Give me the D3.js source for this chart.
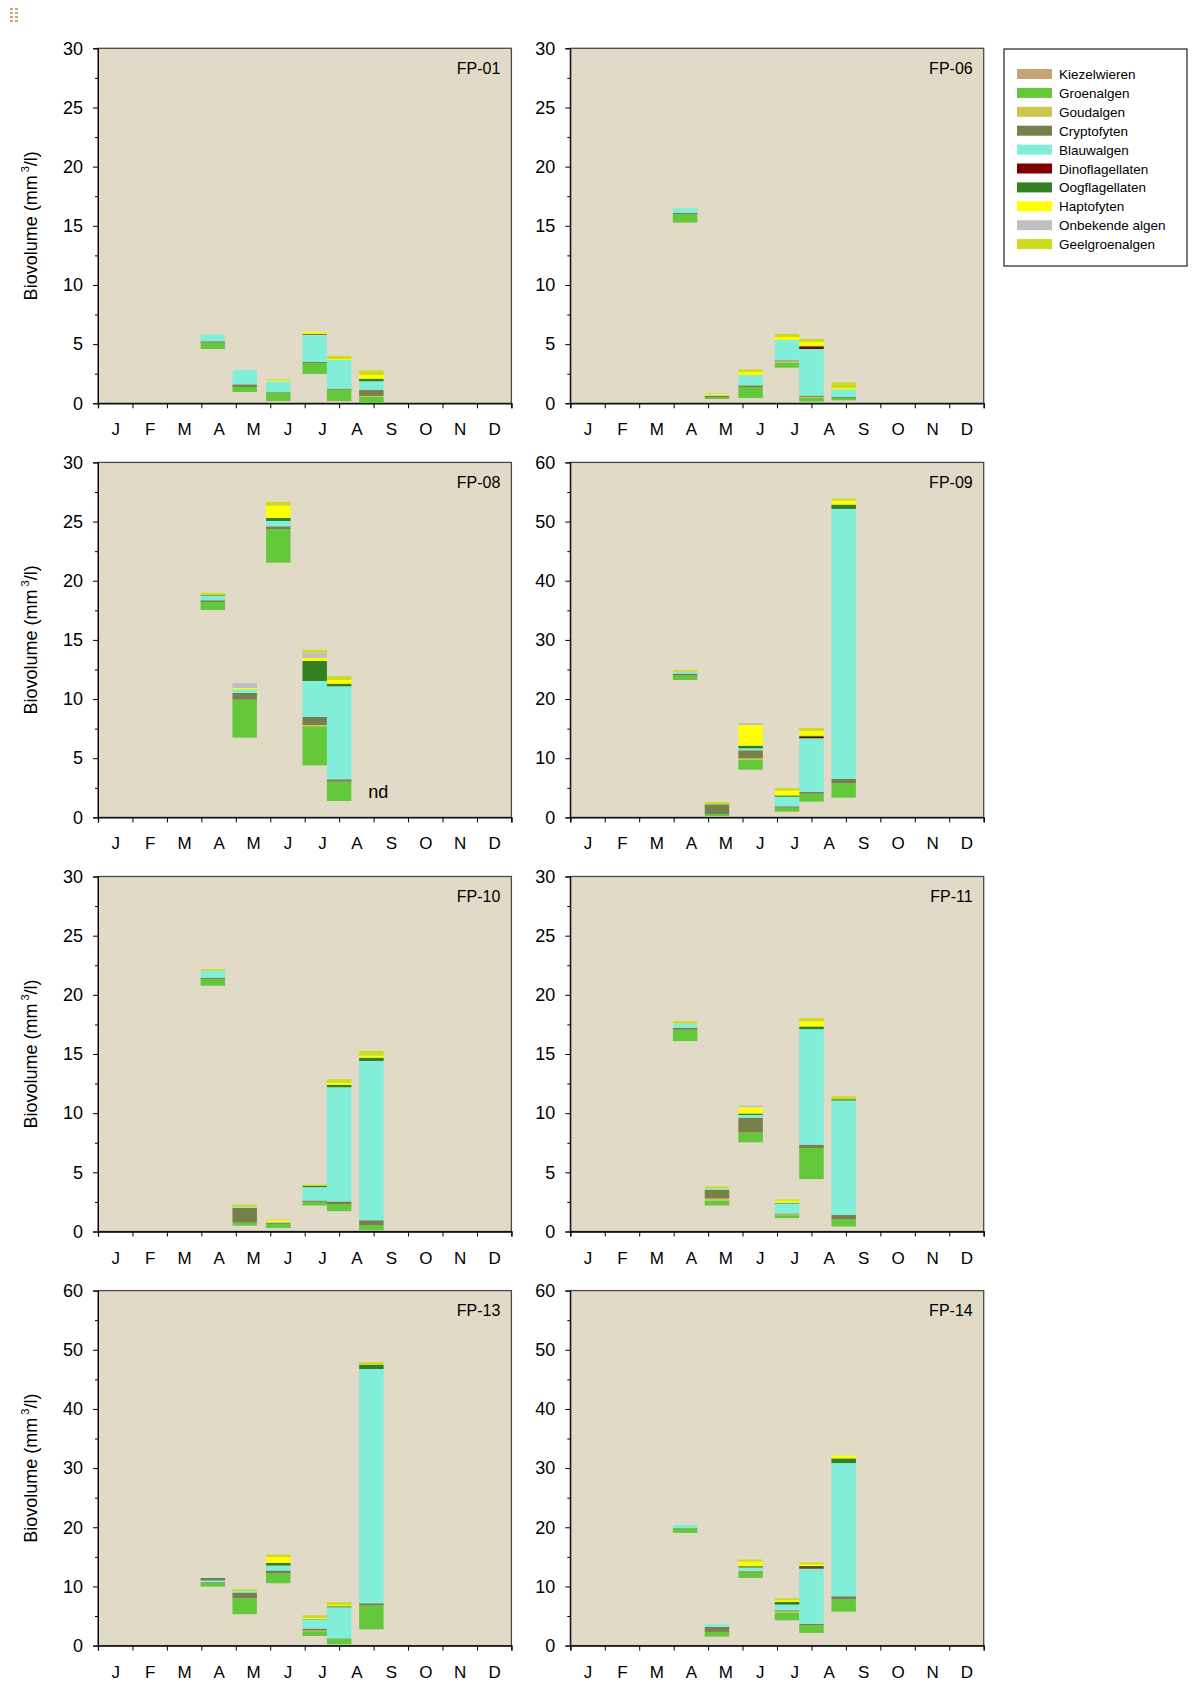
<!DOCTYPE html>
<html>
<head>
<meta charset="utf-8">
<script src="https://cdn.jsdelivr.net/npm/d3@7"></script>
<style>
  body { margin: 0; background: #fff; }
  svg { display: block; font-family: "Liberation Sans", Arial, sans-serif; }
</style>
</head>
<body>
<script>
const months = ["J","F","M","A","M","J","J","A","S","O","N","D"]
const groups = ["Kiezelwieren","Groenalgen","Goudalgen","Cryptofyten","Blauwalgen",
                "Dinoflagellaten","Oogflagellaten","Haptofyten","Onbekende algen","Geelgroenalgen"]
const stations = ["FP-01","FP-06","FP-08","FP-09","FP-10","FP-11","FP-13","FP-14"]
const yMaxes = [30,30,30,60,30,30,60,60]
const sampleDates = ["2011-04-11","2011-05-09","2011-06-08","2011-07-10","2011-08-01","2011-08-30"]

// one row per sample date, columns in the order of groups (mm3/l)
const fp01 = [
  [4.59,0.53,0,0.12,0.56,0,0,0,0,0],
  [0.96,0.42,0,0.22,1.19,0,0,0,0,0],
  [0.19,0.71,0,0.05,0.91,0,0,0.08,0,0.09],
  [2.48,0.93,0,0.08,2.31,0.04,0.04,0.17,0,0],
  [0.19,0.96,0,0.09,2.42,0,0,0.08,0,0.26],
  [0,0.53,0.09,0.5,0.74,0,0.22,0.31,0,0.4]]
const fp06 = [
  [15.27,0.73,0,0.09,0.39,0,0,0,0,0],
  [0.36,0.14,0,0.14,0.05,0,0,0.09,0,0.05],
  [0.45,0.93,0,0.14,0.87,0,0,0.28,0,0.2],
  [3.01,0.42,0.12,0.08,1.72,0,0,0.25,0,0.26],
  [0.14,0.31,0.09,0.1,3.95,0.2,0.08,0.31,0,0.26],
  [0.25,0.2,0,0.08,0.65,0,0,0.11,0,0.48]]
const fp08 = [
  [17.53,0.68,0,0.14,0.39,0,0.05,0,0,0.18],
  [6.74,3.21,0,0.57,0.31,0,0,0.11,0.42,0],
  [21.53,2.82,0,0.25,0.45,0,0.26,1.04,0,0.31],
  [4.4,3.3,0.11,0.68,3.04,0,1.69,0.25,0.45,0.23],
  [1.39,1.63,0,0.2,7.86,0,0.22,0.31,0,0.32],
  null]
const fp09 = [
  [23.23,0.73,0,0.34,0.34,0,0,0,0,0.28],
  [0.24,0.33,0,1.64,0.05,0,0,0,0,0.34],
  [8.07,1.69,0.23,1.35,0.34,0,0.45,3.49,0.34,0],
  [0.97,0.68,0,0.23,1.62,0,0.22,0.79,0,0.45],
  [2.66,1.35,0,0.28,9.08,0.23,0.22,0.79,0,0.5],
  [3.33,2.43,0,0.73,45.65,0,0.73,0.67,0,0.34]]
const fp10 = [
  [20.77,0.55,0,0.1,0.62,0,0,0,0,0.14],
  [0.5,0.25,0,1.25,0.1,0,0,0,0,0.17],
  [0.3,0.35,0,0.1,0.05,0,0,0.15,0,0.05],
  [2.2,0.31,0,0.11,1.13,0,0.1,0,0,0.11],
  [1.72,0.59,0,0.23,9.65,0,0.2,0.17,0,0.31],
  [0.1,0.43,0,0.42,13.46,0,0.28,0.17,0,0.4]]
const fp11 = [
  [16.09,0.96,0,0.16,0.38,0,0,0,0,0.17],
  [2.2,0.42,0.17,0.74,0.11,0,0,0,0,0.17],
  [7.54,0.82,0,1.24,0.25,0,0.12,0.53,0.14,0],
  [1.13,0.25,0.07,0.07,0.85,0,0.06,0.17,0,0.11],
  [4.43,2.63,0,0.28,9.76,0,0.23,0.43,0,0.28],
  [0.42,0.6,0,0.39,9.66,0,0.11,0,0,0.25]]
const fp13 = [
  [9.98,0.61,0,0.12,0.34,0.1,0.24,0,0,0],
  [5.3,2.7,0,0.97,0.27,0,0,0,0,0.28],
  [10.54,1.69,0,0.46,0.84,0,0.45,1.01,0,0.4],
  [1.63,0.8,0.11,0.34,1.57,0,0.06,0.17,0,0.45],
  [0.22,0.96,0,0.05,5.25,0,0.17,0.23,0,0.45],
  [2.76,4.01,0,0.39,39.59,0,0.73,0,0,0.45]]
const fp14 = [
  [19.05,0.8,0,0.05,0.51,0,0,0,0,0],
  [1.52,0.79,0,0.84,0.45,0,0,0,0,0],
  [11.44,0.91,0,0.22,0.63,0,0.22,0.79,0,0.34],
  [4.28,1.3,0.2,0.19,0.96,0,0.45,0.28,0,0.34],
  [2.14,1.29,0,0.23,9.36,0.23,0.22,0.29,0,0.28],
  [5.75,2.08,0,0.51,22.51,0,0.79,0.51,0,0]]
const stationData = [fp01,fp06,fp08,fp09,fp10,fp11,fp13,fp14]

const colours = ["#C4A574","#63C83A","#CCC64C","#77804A","#80EED8",
                 "#800000","#338022","#FFFF00","#C0C0C0","#CCDC1C"]
const plotBg = "#E0DAC6"

const W = 1193, H = 1682
const pw = 413.4, ph = 355
const colX = [98, 570.3]
const rowY = [48.3, 462.4, 876.5, 1290.6]
const barMonths = 0.71

const toMonth = s => {
  const d = new Date(s + "T00:00:00")
  const m = d.getMonth()
  const days = new Date(d.getFullYear(), m + 1, 0).getDate()
  return m + (d.getDate() - 1) / days
}

const svg = d3.select("body").append("svg")
  .attr("width", W).attr("height", H)

// little grip mark top left
const grip = svg.append("g").attr("fill", "#C9A86E")
d3.range(8).forEach(i => {
  grip.append("rect").attr("x", 10 + (i % 2) * 5).attr("y", 8 + Math.floor(i / 2) * 4)
    .attr("width", 3).attr("height", 2)
})

const x = d3.scaleLinear().domain([0, 12]).range([0, pw])
const bw = x(barMonths) - x(0)

const stack = d3.stack().keys(d3.range(groups.length)).value((d, k) => d[k])

stations.forEach((name, i) => {
  const col = i % 2, row = Math.floor(i / 2)
  const g = svg.append("g").attr("transform", `translate(${colX[col]},${rowY[row]})`)
  const yMax = yMaxes[i]
  const y = d3.scaleLinear().domain([0, yMax]).range([ph, 0])
  const step = yMax / 6

  g.append("rect").attr("width", pw).attr("height", ph)
    .attr("fill", plotBg).attr("stroke", "#4a4a4a").attr("stroke-width", 1.3)

  const rows = stationData[i]
    .map((v, j) => v ? Object.assign(v.slice(), { date: toMonth(sampleDates[j]) }) : null)
    .filter(d => d)
  const layers = stack(rows)

  // diatoms at the bottom of each stack are not visible in the original
  g.selectAll("g.layer")
    .data(layers.filter(l => l.key !== 0))
    .join("g")
    .attr("class", "layer")
    .attr("fill", d => colours[d.key])
    .selectAll("rect")
    .data(d => d)
    .join("rect")
    .attr("x", d => x(d.data.date) - bw / 2)
    .attr("width", bw)
    .attr("y", d => y(d[1]))
    .attr("height", d => Math.max(0, y(d[0]) - y(d[1])))

  stationData[i].forEach((v, j) => {
    if (v === null) {
      g.append("text").attr("x", x(toMonth(sampleDates[j])) + 7).attr("y", y(0) - 19)
        .attr("text-anchor", "middle").attr("font-size", 18).attr("fill", "#000").text("nd")
    }
  })

  // y axis
  const yAxis = g.append("g")
    .call(d3.axisLeft(y).tickValues(d3.range(0, yMax + 0.01, step)).tickSize(5).tickPadding(10))
  yAxis.selectAll("text").attr("font-size", 18).attr("fill", "#000")
    .attr("font-family", "Liberation Sans, Arial, sans-serif")
  g.append("g")
    .call(d3.axisLeft(y).tickValues(d3.range(step / 2, yMax, step)).tickSize(3).tickFormat(""))
    .select(".domain").remove()

  // x axis
  const xAxis = g.append("g").attr("transform", `translate(0,${ph})`)
    .call(d3.axisBottom(x).tickValues(d3.range(0, 13)).tickSize(5).tickFormat(""))
  xAxis.select(".domain").attr("stroke-width", 1.3)
  const mAxis = g.append("g").attr("transform", `translate(0,${ph})`)
    .call(d3.axisBottom(x).tickValues(d3.range(0.5, 12)).tickSize(0).tickPadding(20)
      .tickFormat(d => months[Math.floor(d)]))
  mAxis.select(".domain").remove()
  mAxis.selectAll("text").attr("font-size", 17).attr("fill", "#000")
    .attr("font-family", "Liberation Sans, Arial, sans-serif")

  g.append("text").attr("x", pw - 11).attr("y", 25.5)
    .attr("text-anchor", "end").attr("font-size", 16).text(name)

  if (col === 0) {
    const t = g.append("text")
      .attr("transform", `translate(${37 - colX[0]},${ph / 2}) rotate(-90)`)
      .attr("text-anchor", "middle").attr("font-size", 18)
    t.append("tspan").text("Biovolume (mm")
    t.append("tspan").attr("font-size", 11).attr("dy", -8).attr("dx", 3).text("3")
    t.append("tspan").attr("dy", 8).text("/l)")
  }
})

// legend
const lg = svg.append("g").attr("transform", "translate(1004,49)")
lg.append("rect").attr("width", 183).attr("height", 217)
  .attr("fill", "#fff").attr("stroke", "#333").attr("stroke-width", 1.3)
const items = lg.selectAll("g.item").data(groups).join("g")
  .attr("class", "item")
  .attr("transform", (d, i) => `translate(0,${25 + i * 18.9})`)
items.append("rect").attr("x", 13).attr("y", -5).attr("width", 35).attr("height", 10)
  .attr("fill", (d, i) => colours[i])
items.append("text").attr("x", 55).attr("y", 5).attr("font-size", 13.5).text(d => d)
</script>
</body>
</html>
